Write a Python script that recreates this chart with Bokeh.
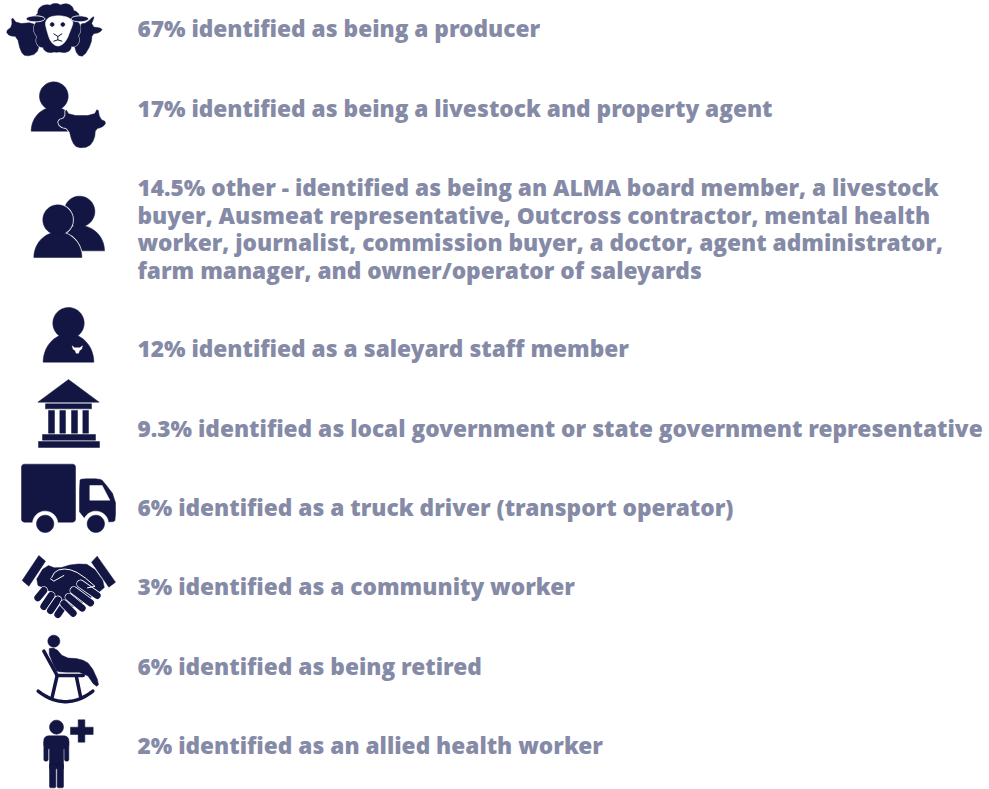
import numpy as np
from bokeh.plotting import figure
from bokeh.models import Range1d, ColumnDataSource
from bokeh.core.properties import value
from bokeh.embed import file_html
from bokeh.resources import INLINE

# --- chart content -----------------------------------------------------
shares = ["67%", "17%", "14.5%", "12%", "9.3%", "6%", "3%", "6%", "2%"]
descriptions = [
    ["identified as being a producer"],
    ["identified as being a livestock and property agent"],
    ["other - identified as being an ALMA board member, a livestock",
     "buyer, Ausmeat representative, Outcross contractor, mental health",
     "worker, journalist, commission buyer, a doctor, agent administrator,",
     "farm manager, and owner/operator of saleyards"],
    ["identified as a saleyard staff member"],
    ["identified as local government or state government representative"],
    ["identified as a truck driver (transport operator)"],
    ["identified as a community worker"],
    ["identified as being retired"],
    ["identified as an allied health worker"],
]
# --- layout -------------------------------------------------------------
row_baselines = [[28], [108], [187, 214.5, 242, 269.5], [348], [428], [507], [586], [666], [745]]
TEXT_X = 137
TEXT_SIZE = "22.67px"
TEXT_COLOR = "#858aa6"
DARK = "#131643"
WHITE = "#ffffff"

p = figure(width=989, height=789, x_range=Range1d(0, 989), y_range=Range1d(789, 0),
           output_backend="svg", toolbar_location=None, min_border=0,
           outline_line_color=None)
p.axis.visible = False
p.grid.visible = False

# --- icon helpers (icon outlines in 3x units from each icon's own origin) --
def soft(pts, n=2):
    a = np.array(pts, dtype=float)
    for _ in range(n):
        b = np.roll(a, -1, axis=0)
        a = np.c_[0.75 * a + 0.25 * b, 0.25 * a + 0.75 * b].reshape(-1, 2)
    return a

def fill(pts, ox, oy, color=DARK, outline=None, lw=1):
    a = np.array(pts, dtype=float)
    p.patch(ox + a[:, 0] / 3, oy + a[:, 1] / 3, fill_color=color,
            line_color=outline or color, line_width=lw if outline else 0.5)

def stroke(pts, ox, oy, color=DARK, lw=3):
    a = np.array(pts, dtype=float)
    p.line(ox + a[:, 0] / 3, oy + a[:, 1] / 3, line_color=color, line_width=lw, line_cap="round", line_join="round")

def oval(cx, cy, rx, ry=None):
    ry = rx if ry is None else ry
    t = np.linspace(0, 2 * np.pi, 60)
    return np.c_[cx + rx * np.cos(t), cy + ry * np.sin(t)]

def dome(cx, base, rx, ry):
    t = np.linspace(np.pi, 2 * np.pi, 40)
    return np.c_[cx + rx * np.cos(t), base + ry * np.sin(t)]

def box(x0, y0, x1, y1):
    return [(x0, y0), (x1, y0), (x1, y1), (x0, y1)]

def rbox(x0, y0, x1, y1, r):
    pts = []
    for cx, cy, a in [(x1 - r, y0 + r, -90), (x1 - r, y1 - r, 0), (x0 + r, y1 - r, 90), (x0 + r, y0 + r, 180)]:
        for d in np.radians(np.linspace(a, a + 90, 8)):
            pts.append((cx + r * np.cos(d), cy + r * np.sin(d)))
    return pts

# sheep, cow and goat
cow_l = [(16, 92), (35, 78), (33, 48), (50, 70), (100, 66), (115, 90), (118, 130), (108, 160), (75, 168),
         (60, 152), (50, 108), (26, 106)]
goat = [(222, 100), (240, 70), (258, 68), (284, 42), (270, 78), (308, 84), (296, 97), (275, 100), (272, 130),
        (250, 168), (230, 164), (220, 130)]
fill(soft(cow_l, 1), 0, 0)
fill(soft(goat, 1), 0, 0)
wool = [(170, 85, 62, 70), (140, 35, 28, 22), (165, 27, 22, 18), (195, 30, 24, 20), (215, 50, 22, 20),
        (125, 55, 22, 20), (120, 85, 20, 25), (222, 85, 18, 25), (125, 120, 18, 20), (218, 118, 18, 20),
        (150, 140, 22, 16), (190, 140, 22, 16)]
for w in wool:
    fill(oval(*w), 0, 0, outline=WHITE, lw=1.2)
for w in wool:
    fill(oval(*w), 0, 0)
fill(oval(105, 55, 28, 9), 0, 0, outline=WHITE, lw=1)
fill(oval(238, 55, 26, 9), 0, 0, outline=WHITE, lw=1)
fill(soft([(133, 62), (152, 46), (195, 46), (220, 62), (212, 85), (196, 125), (172, 140), (150, 125), (138, 88)], 2), 0, 0, WHITE)
fill(oval(155, 72, 6), 0, 0)
fill(oval(187, 72, 6), 0, 0)
stroke([(160, 100), (172, 108), (184, 100)], 0, 0, lw=1)
stroke([(172, 108), (172, 118)], 0, 0, lw=1)
stroke([(160, 122), (172, 118), (184, 122)], 0, 0, lw=1)

# person and cow
fill(oval(160, 287, 43), 0, 0)
fill(dome(160, 392, 68, 72), 0, 0)
cow2 = soft([(195, 324), (207, 345), (280, 345), (292, 322), (298, 355), (318, 365), (306, 380), (285, 385),
             (282, 415), (265, 440), (230, 442), (215, 425), (205, 385), (178, 378), (172, 360), (195, 352)], 1)
fill(cow2, 0, 0, outline=WHITE, lw=2)
fill(cow2, 0, 0)

# two people
Y = 180
fill(oval(237, 93, 46), 0, Y)
fill(dome(237, 211, 75, 76), 0, Y)
fill(oval(172, 118, 45), 0, Y, outline=WHITE, lw=2)
fill(dome(172, 231, 72, 76), 0, Y, outline=WHITE, lw=2)
fill(oval(172, 118, 45), 0, Y)
fill(dome(172, 231, 72, 76), 0, Y)

# saleyard staff member
fill(oval(204, 428, 47), 0, Y)
fill(dome(204, 545, 76, 85), 0, Y)
fill([(215, 496), (222, 502), (238, 502), (246, 496), (243, 506), (237, 510), (234, 518), (227, 518), (224, 510), (218, 506)], 0, Y, WHITE)

# government building
Y = 370
fill([(112, 95), (204, 27), (296, 95)], 0, Y)
fill(box(135, 100, 273, 115), 0, Y)
for x0, x1 in [(144, 162), (178, 195), (213, 231), (247, 264)]:
    fill(box(x0, 120, x1, 188), 0, Y)
fill(box(126, 192, 285, 209), 0, Y)
fill(box(114, 213, 297, 231), 0, Y)

# truck
fill(rbox(63, 281, 225, 455, 9), 0, Y)
fill(soft([(237, 330), (243, 325), (298, 325), (308, 332), (345, 380), (345, 448), (338, 455), (237, 455)], 1), 0, Y)
fill([(268, 345), (305, 345), (328, 389), (268, 389)], 0, Y, WHITE)
for cx in (134, 286):
    fill(oval(cx, 460, 38), 0, Y, WHITE)
    fill(oval(cx, 460, 26), 0, Y)

# handshake
Y = 540
fill([(115, 45), (135, 62), (85, 137), (65, 120)], 0, Y)
fill([(290, 47), (345, 125), (325, 140), (273, 65)], 0, Y)
fill(soft([(135, 72), (170, 85), (220, 70), (272, 72), (318, 135), (292, 158), (240, 190), (200, 205), (150, 150), (100, 130)], 1), 0, Y)
for a, b in [((130, 150), (112, 172)), ((152, 165), (130, 198)), ((172, 178), (150, 210)), ((190, 195), (172, 222))]:
    stroke([a, b], 0, Y, WHITE, 8.5)
    stroke([a, b], 0, Y, DARK, 7)
for a, b in [((190, 190), (218, 218)), ((205, 170), (245, 203)), ((220, 150), (270, 187)), ((240, 130), (290, 165))]:
    stroke([a, b], 0, Y, WHITE, 8.5)
    stroke([a, b], 0, Y, DARK, 7)
fill(soft([(150, 115), (165, 90), (200, 85), (240, 100), (225, 125), (190, 110), (160, 124)], 1), 0, Y, DARK)
stroke(soft([(150, 118), (165, 90), (200, 84), (240, 100), (298, 150)], 1)[:-1], 0, Y, WHITE, 1)
stroke([(150, 115), (160, 122), (190, 105)], 0, Y, WHITE, 1)

# rocking chair
fill(oval(160, 302, 18), 0, Y)
fill(soft([(140, 325), (165, 322), (190, 352), (240, 355), (270, 372), (297, 430), (285, 440), (255, 395), (180, 395), (165, 390)], 1), 0, Y)
stroke([(130, 332), (170, 405)], 0, Y, lw=3.5)
stroke([(170, 405), (248, 405)], 0, Y, lw=3.5)
stroke([(170, 405), (155, 470)], 0, Y, lw=3.5)
stroke([(228, 410), (240, 468)], 0, Y, lw=3.5)
t = np.linspace(0, 1, 30)
stroke(np.c_[(1 - t) ** 2 * 113 + 2 * t * (1 - t) * 195 + t ** 2 * 277,
             (1 - t) ** 2 * 452 + 2 * t * (1 - t) * 515 + t ** 2 * 452], 0, Y, lw=3.5)

# person with plus
fill(oval(168, 560, 21), 0, Y)
fill(rbox(130, 586, 205, 625, 14), 0, Y)
fill(rbox(130, 600, 143, 662, 5), 0, Y)
fill(rbox(192, 600, 205, 662, 5), 0, Y)
fill(box(147, 600, 189, 685), 0, Y)
fill(rbox(147, 670, 166, 742, 4), 0, Y)
fill(rbox(170, 670, 189, 742, 4), 0, Y)
fill(box(210, 560, 278, 582), 0, Y)
fill(box(233, 538, 253, 605), 0, Y)

# --- texts ---------------------------------------------------------------
xs, ys, lines = [], [], []
for share, desc, bases in zip(shares, descriptions, row_baselines):
    for i, (d, b) in enumerate(zip(desc, bases)):
        lines.append(f"{share} {d}" if i == 0 else d)
        xs.append(TEXT_X)
        ys.append(b)
src = ColumnDataSource(dict(x=xs, y=ys, text=lines))
p.text("x", "y", text="text", source=src, text_font=value("Open Sans ExtraBold"), text_font_size=value(TEXT_SIZE),
       text_color=TEXT_COLOR,
       text_baseline="alphabetic", text_align="left")

open("out.html", "w").write(file_html(p, INLINE))
